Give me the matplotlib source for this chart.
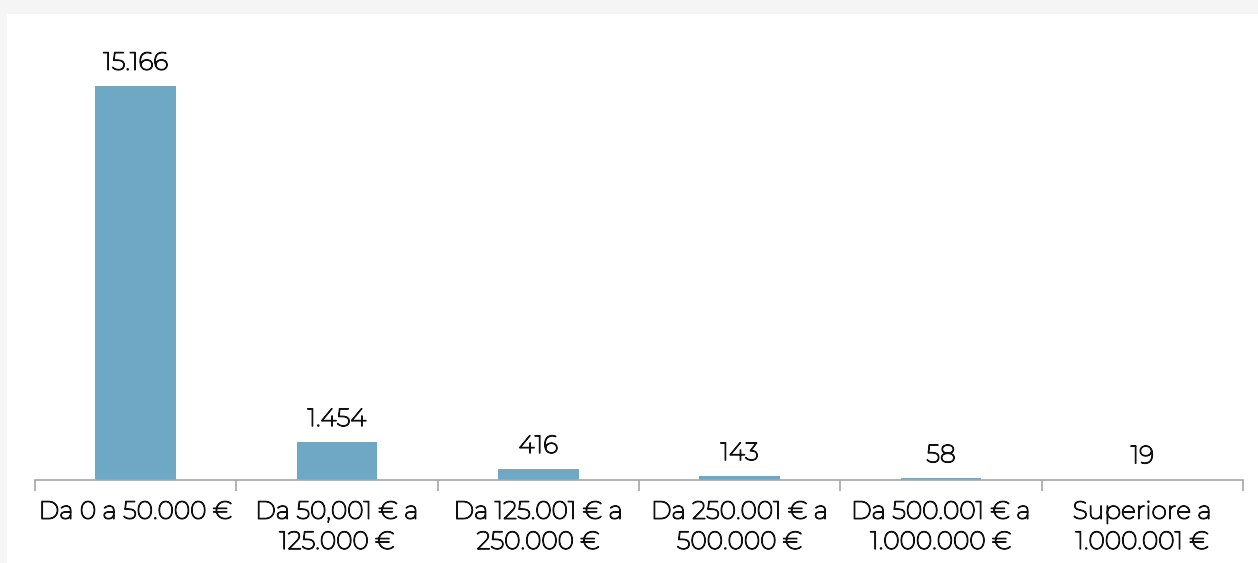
import matplotlib.pyplot as plt
import matplotlib.patches as mpatches
import matplotlib.patheffects as pe
import numpy as np

# fasce di valore e numero di soggetti
fasce = ['Da 0 a 50.000 €', 'Da 50,001 € a\n125.000 €', 'Da 125.001 € a\n250.000 €',
         'Da 250.001 € a\n500.000 €', 'Da 500.001 € a\n1.000.000 €', 'Superiore a\n1.000.001 €']
conteggi = [15166, 1454, 416, 143, 58, 19]
etichette = ['15.166', '1.454', '416', '143', '58', '19']

plt.rcParams['font.family'] = ['Montserrat', 'Open Sans', 'DejaVu Sans']

# il Montserrat installato e' molto sottile: ispessisco con un contorno
spessore = [pe.withStroke(linewidth=0.9, foreground='#111111')]

W, H = 1258, 563
fig = plt.figure(figsize=(W / 100, H / 100), dpi=100)
fig.patch.set_facecolor('#f5f5f5')

# pannello bianco con leggera ombra in alto/sinistra
fig.patches.append(mpatches.Rectangle((7 / W, 0), 1, 1 - 14 / H, transform=fig.transFigure,
                                      facecolor='white', edgecolor='none', zorder=-10))

ax = fig.add_axes([35 / W, (H - 480) / H, (1243 - 35) / W, 440 / H])
ax.set_facecolor('none')

x = np.arange(len(fasce))
ax.bar(x, conteggi, width=0.4, color='#6fa8c4', zorder=2)

for xi, v, lab in zip(x, conteggi, etichette):
    ax.annotate(lab, (xi, v), xytext=(0, 8), textcoords='offset points',
                ha='center', va='bottom', fontsize=18, color='#111111',
                path_effects=spessore)

ax.set_xlim(-0.5, len(fasce) - 0.5)
ax.set_ylim(0, 15166 * 440 / 394)

for s in ['top', 'right', 'left']:
    ax.spines[s].set_visible(False)
ax.spines['bottom'].set_color('#a6a6a6')
ax.spines['bottom'].set_linewidth(1.2)

ax.set_yticks([])
ax.set_xticks(x)
ax.set_xticklabels(fasce, fontsize=18, color='#111111', linespacing=1.4)
for t in ax.get_xticklabels():
    t.set_path_effects(spessore)
ax.tick_params(axis='x', which='major', length=0, pad=15)
ax.set_xticks(np.arange(-0.5, len(fasce)), minor=True)
ax.tick_params(axis='x', which='minor', length=8, width=1.2, color='#a6a6a6')

fig.savefig('out.png', dpi=100, facecolor=fig.get_facecolor())
